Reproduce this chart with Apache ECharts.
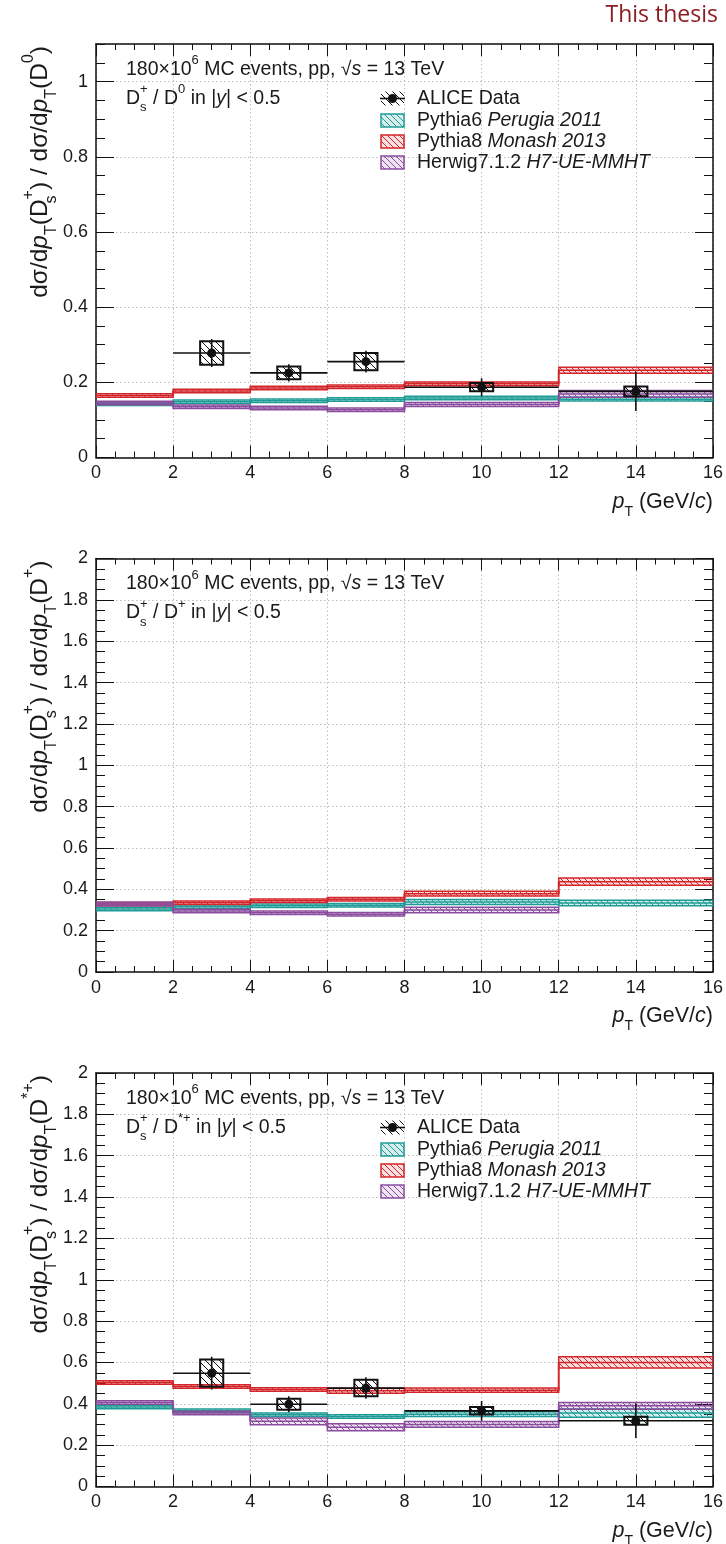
<!DOCTYPE html>
<html><head><meta charset="utf-8">
<script src="https://cdn.jsdelivr.net/npm/echarts@6/dist/echarts.min.js"></script>
<style>html,body{margin:0;padding:0;background:#fff}#c{width:726px;height:1544px}</style>
</head><body><div id="c"></div>
<script>
// ---------------- data ----------------
const binLo = [0, 2, 4, 6, 8, 12];
const binHi = [2, 4, 6, 8, 12, 16];
const ptLo = [2, 4, 6, 8, 12];
const ptHi = [4, 6, 8, 12, 16];
const ptCenter = [3, 5, 7, 10, 14];

// Panel 1: Ds+/D0
const d0Pythia6 = [0.143, 0.148, 0.151, 0.154, 0.158, 0.155];
const d0Pythia6Err = [0.003, 0.003, 0.003, 0.003, 0.004, 0.005];
const d0Pythia8 = [0.165, 0.177, 0.185, 0.188, 0.196, 0.232];
const d0Pythia8Err = [0.003, 0.003, 0.003, 0.004, 0.005, 0.008];
const d0Herwig = [0.145, 0.135, 0.132, 0.127, 0.141, 0.169];
const d0HerwigErr = [0.004, 0.004, 0.004, 0.004, 0.005, 0.009];
const d0Data = [0.278, 0.225, 0.255, 0.187, 0.176];
const d0Stat = [0.037, 0.023, 0.029, 0.024, 0.052];
const d0Syst = [0.031, 0.017, 0.023, 0.011, 0.013];

// Panel 2: Ds+/D+
const dpPythia6 = [0.305, 0.315, 0.321, 0.323, 0.339, 0.334];
const dpPythia6Err = [0.004, 0.004, 0.005, 0.006, 0.012, 0.013];
const dpPythia8 = [0.329, 0.335, 0.345, 0.352, 0.379, 0.437];
const dpPythia8Err = [0.004, 0.004, 0.005, 0.006, 0.011, 0.018];
const dpHerwig = [0.329, 0.295, 0.287, 0.279, 0.300, null];
const dpHerwigErr = [0.006, 0.005, 0.005, 0.007, 0.013, null];

// Panel 3: Ds+/D*+
const dsPythia6 = [0.385, 0.366, 0.347, 0.339, 0.350, 0.355];
const dsPythia6Err = [0.004, 0.004, 0.005, 0.006, 0.012, 0.020];
const dsPythia8 = [0.503, 0.484, 0.469, 0.463, 0.466, 0.600];
const dsPythia8Err = [0.004, 0.005, 0.006, 0.012, 0.010, 0.027];
const dsHerwig = [0.406, 0.355, 0.315, 0.287, 0.300, 0.390];
const dsHerwigErr = [0.008, 0.006, 0.016, 0.017, 0.014, 0.016];
const dsData = [0.548, 0.398, 0.476, 0.366, 0.318];
const dsStat = [0.079, 0.039, 0.052, 0.048, 0.084];
const dsSyst = [0.066, 0.027, 0.040, 0.018, 0.019];

// ---------------- style ----------------
const FONT = "'Liberation Sans', Arial, Helvetica, sans-serif";
const C_P6 = '#1f9c97', C_P8 = '#d3262b', C_HW = '#8a4d9e', C_INK = '#111111', C_TXT = '#1a1a1a';
const PANEL_TOP = [44, 558.5, 1073];
const PANEL_H = 413.5;
const PANEL_MAX = [1.1, 2, 2];
const LEFT = 96, WIDTH = 619;

function hatch(color, bg, s, lw) {
  const c = document.createElement('canvas'); c.width = s; c.height = s;
  const g = c.getContext('2d');
  if (bg) { g.fillStyle = bg; g.fillRect(0, 0, s, s); }
  g.strokeStyle = color; g.lineWidth = lw; g.beginPath();
  g.moveTo(-2, -2); g.lineTo(s + 2, s + 2);
  g.moveTo(-2, s - 2); g.lineTo(2, s + 2);
  g.moveTo(s - 2, -2); g.lineTo(s + 2, 2);
  g.stroke();
  return { image: c, repeat: 'repeat' };
}
const PAT = {};
PAT[C_P6] = hatch(C_P6, 'rgba(31,156,151,0.18)', 6, 1);
PAT[C_P8] = hatch(C_P8, 'rgba(211,38,43,0.15)', 6, 1);
PAT[C_HW] = hatch(C_HW, 'rgba(138,77,158,0.15)', 6, 1);
const PAT_DATA = hatch('#111', null, 7, 1);

function mcSeries(name, color, ys, es, p) {
  const data = [];
  ys.forEach((y, i) => {
    if (y == null) return;
    const prev = (i > 0 && ys[i - 1] != null) ? ys[i - 1] : y;
    data.push([binLo[i], binHi[i], y, es[i], prev]);
  });
  return {
    type: 'custom', name, xAxisIndex: 2 * p, yAxisIndex: 4 * p, silent: true, clip: true, z: 3,
    data,
    renderItem(params, api) {
      const x0 = api.value(0), x1 = api.value(1), y = api.value(2), e = api.value(3), yp = api.value(4);
      const a = api.coord([x0, y + e]), b = api.coord([x1, y - e]);
      let top = a[1], bot = b[1];
      if (bot - top < 3.5) { const m = (top + bot) / 2; top = m - 1.75; bot = m + 1.75; }
      const yc = api.coord([x0, y])[1], ypc = api.coord([x0, yp])[1];
      return { type: 'group', children: [
        { type: 'rect', shape: { x: a[0], y: top, width: b[0] - a[0], height: bot - top },
          style: { fill: PAT[color], stroke: color, lineWidth: 1.5 } },
        { type: 'line', shape: { x1: a[0], y1: yc, x2: b[0], y2: yc }, style: { stroke: color, lineWidth: 1.5 } },
        { type: 'line', shape: { x1: a[0], y1: ypc, x2: a[0], y2: yc }, style: { stroke: color, lineWidth: 2 } }
      ] };
    }
  };
}

function dataSeries(vals, stat, syst, p) {
  const data = vals.map((v, i) => [ptCenter[i], v, stat[i], syst[i], ptLo[i], ptHi[i]]);
  return {
    type: 'custom', name: 'ALICE Data', xAxisIndex: 2 * p, yAxisIndex: 4 * p, silent: true, clip: true, z: 5,
    data,
    renderItem(params, api) {
      const xc = api.value(0), v = api.value(1), st = api.value(2), sy = api.value(3), lo = api.value(4), hi = api.value(5);
      const c = api.coord([xc, v]);
      const bA = api.coord([xc - 0.3, v + sy]), bB = api.coord([xc + 0.3, v - sy]);
      const sA = api.coord([xc, v + st]), sB = api.coord([xc, v - st]);
      const hA = api.coord([lo, v]), hB = api.coord([hi, v]);
      return { type: 'group', children: [
        { type: 'rect', shape: { x: bA[0], y: bA[1], width: bB[0] - bA[0], height: bB[1] - bA[1] },
          style: { fill: PAT_DATA, stroke: C_INK, lineWidth: 2 } },
        { type: 'line', shape: { x1: hA[0], y1: c[1], x2: hB[0], y2: c[1] }, style: { stroke: C_INK, lineWidth: 1.6 } },
        { type: 'line', shape: { x1: c[0], y1: sA[1], x2: c[0], y2: sB[1] }, style: { stroke: C_INK, lineWidth: 1.6 } },
        { type: 'circle', shape: { cx: c[0], cy: c[1], r: 4.5 }, style: { fill: C_INK } }
      ] };
    }
  };
}

// ---------------- axes ----------------
const lineSt = { color: C_INK, width: 1.5 };
const tickSt = { color: C_INK, width: 1 };
const gridLine = { show: true, lineStyle: { color: '#bdbdbd', width: 1, type: [1.5, 2.5] } };
const grids = [], xAxes = [], yAxes = [];
PANEL_TOP.forEach((t, p) => {
  grids.push({ left: LEFT, width: WIDTH, top: t, height: PANEL_H, containLabel: false });
  const xc = { type: 'value', gridIndex: p, min: 0, max: 16, interval: 2,
    axisLine: { show: true, onZero: false, lineStyle: lineSt },
    axisTick: { show: true, inside: true, length: 12, lineStyle: tickSt },
    minorTick: { show: true, splitNumber: 4, length: 6, lineStyle: tickSt } };
  xAxes.push(Object.assign({}, xc, { position: 'bottom',
    axisLabel: { show: true, margin: 7, fontSize: 18, fontFamily: FONT, color: C_TXT }, splitLine: gridLine }));
  xAxes.push(Object.assign({}, xc, { position: 'top', axisLabel: { show: false }, splitLine: { show: false } }));
  const max = PANEL_MAX[p];
  const yb = { type: 'value', gridIndex: p, min: 0, max,
    axisLine: { show: false, onZero: false }, splitLine: { show: false }, axisLabel: { show: false },
    minorTick: { show: false } };
  yAxes.push(Object.assign({}, yb, { position: 'left', interval: 0.2,
    axisLine: { show: true, onZero: false, lineStyle: lineSt },
    axisTick: { show: true, inside: true, length: 18, lineStyle: tickSt },
    axisLabel: { show: true, margin: 8, fontSize: 18, fontFamily: FONT, color: C_TXT, showMaxLabel: max === 2 },
    splitLine: gridLine }));
  yAxes.push(Object.assign({}, yb, { position: 'left', interval: 0.05,
    axisTick: { show: true, inside: true, length: 9, lineStyle: tickSt } }));
  yAxes.push(Object.assign({}, yb, { position: 'right', interval: 0.2,
    axisLine: { show: true, onZero: false, lineStyle: lineSt },
    axisTick: { show: true, inside: true, length: 18, lineStyle: tickSt } }));
  yAxes.push(Object.assign({}, yb, { position: 'right', interval: 0.05,
    axisTick: { show: true, inside: true, length: 9, lineStyle: tickSt } }));
});

// ---------------- text ----------------
function rich(fs, color) {
  const L = Math.round(fs * 1.6);
  const sfs = Math.round(fs * 0.66);
  const base = { fontFamily: FONT, fill: color };
  return {
    n: Object.assign({ fontSize: fs, lineHeight: L, verticalAlign: 'middle' }, base),
    i: Object.assign({ fontSize: fs, lineHeight: L, verticalAlign: 'middle', fontStyle: 'italic' }, base),
    sub: Object.assign({ fontSize: sfs, lineHeight: Math.round(fs * 1.0), verticalAlign: 'bottom' }, base),
    subz: Object.assign({ fontSize: sfs, lineHeight: Math.round(fs * 1.0), verticalAlign: 'bottom', width: 0, align: 'left' }, base),
    sup: Object.assign({ fontSize: sfs, lineHeight: Math.round(fs * 0.84), verticalAlign: 'top' }, base)
  };
}
function txt(x, y, text, fs, o) {
  o = o || {};
  const color = o.color || C_TXT;
  return { type: 'text', x, y, rotation: o.rot || 0, silent: true, z: 100,
    style: { text, fill: color, fontSize: fs, fontFamily: o.family || FONT, align: o.align || 'left',
      verticalAlign: 'middle', rich: o.plain ? undefined : rich(fs, color) } };
}

const annEvents = '{n|180×10}{sup|6}{n| MC events, pp, √}{i|s}{n| = 13 TeV}';
const annRatio = [
  '{n|D}{subz|s}{sup|+}{n| / D}{sup|0}{n| in |}{i|y}{n|| < 0.5}',
  '{n|D}{subz|s}{sup|+}{n| / D}{sup|+}{n| in |}{i|y}{n|| < 0.5}',
  '{n|D}{subz|s}{sup|+}{n| / D}{sup|*+}{n| in |}{i|y}{n|| < 0.5}'
];
const yTitle = [
  '{n|dσ/d}{i|p}{sub|T}{n|(D}{subz|s}{sup|+}{n|) / dσ/d}{i|p}{sub|T}{n|(D}{sup|0}{n|)}',
  '{n|dσ/d}{i|p}{sub|T}{n|(D}{subz|s}{sup|+}{n|) / dσ/d}{i|p}{sub|T}{n|(D}{sup|+}{n|)}',
  '{n|dσ/d}{i|p}{sub|T}{n|(D}{subz|s}{sup|+}{n|) / dσ/d}{i|p}{sub|T}{n|(D}{sup|*+}{n|)}'
];
const xTitle = '{i|p}{sub|T}{n| (GeV/}{i|c}{n|)}';
const legendNames = ['{n|ALICE Data}', '{n|Pythia6 }{i|Perugia 2011}', '{n|Pythia8 }{i|Monash 2013}', '{n|Herwig7.1.2 }{i|H7-UE-MMHT}'];
const legendColors = [null, C_P6, C_P8, C_HW];

const graphics = [];
graphics.push(txt(718, 15, 'This thesis', 23, { color: '#8e1b20', align: 'right', family: "'Open Sans', sans-serif", plain: true }));
PANEL_TOP.forEach((t, p) => {
  graphics.push(txt(126, t + 25.5, annEvents, 19.5));
  graphics.push(txt(126, t + 54.5, annRatio[p], 19.5));
  graphics.push(txt(40, t + 2, yTitle[p], 24.5, { rot: Math.PI / 2, align: 'right' }));
  graphics.push(txt(713, t + 458, xTitle, 21.5, { align: 'right' }));
  if (p !== 1) {
    const rows = [54.5, 76.5, 97.5, 118.5];
    rows.forEach((r, k) => {
      const y = t + r;
      if (k === 0) {
        graphics.push({ type: 'rect', silent: true, z: 100, shape: { x: 381, y: y - 7, width: 23, height: 14 }, style: { fill: PAT_DATA } });
        graphics.push({ type: 'line', silent: true, z: 100, shape: { x1: 380, y1: y, x2: 405, y2: y }, style: { stroke: C_INK, lineWidth: 1.6 } });
        graphics.push({ type: 'circle', silent: true, z: 101, shape: { cx: 392.5, cy: y, r: 4.5 }, style: { fill: C_INK } });
      } else {
        const c = legendColors[k];
        graphics.push({ type: 'rect', silent: true, z: 100, shape: { x: 381, y: y - 6.5, width: 23, height: 13 }, style: { fill: PAT[c], stroke: c, lineWidth: 1.5 } });
      }
      graphics.push(txt(417, y, legendNames[k], 19.5));
    });
  }
});

// ---------------- series ----------------
const series = [
  mcSeries('Pythia6 Perugia 2011', C_P6, d0Pythia6, d0Pythia6Err, 0),
  mcSeries('Pythia8 Monash 2013', C_P8, d0Pythia8, d0Pythia8Err, 0),
  mcSeries('Herwig7.1.2 H7-UE-MMHT', C_HW, d0Herwig, d0HerwigErr, 0),
  dataSeries(d0Data, d0Stat, d0Syst, 0),
  mcSeries('Pythia6 Perugia 2011', C_P6, dpPythia6, dpPythia6Err, 1),
  mcSeries('Pythia8 Monash 2013', C_P8, dpPythia8, dpPythia8Err, 1),
  mcSeries('Herwig7.1.2 H7-UE-MMHT', C_HW, dpHerwig, dpHerwigErr, 1),
  mcSeries('Pythia6 Perugia 2011', C_P6, dsPythia6, dsPythia6Err, 2),
  mcSeries('Pythia8 Monash 2013', C_P8, dsPythia8, dsPythia8Err, 2),
  mcSeries('Herwig7.1.2 H7-UE-MMHT', C_HW, dsHerwig, dsHerwigErr, 2),
  dataSeries(dsData, dsStat, dsSyst, 2)
];

const chart = echarts.init(document.getElementById('c'), null, { renderer: 'canvas' });
chart.setOption({
  animation: false,
  backgroundColor: '#ffffff',
  grid: grids,
  xAxis: xAxes,
  yAxis: yAxes,
  series,
  graphic: { elements: graphics }
});
</script>
</body></html>
